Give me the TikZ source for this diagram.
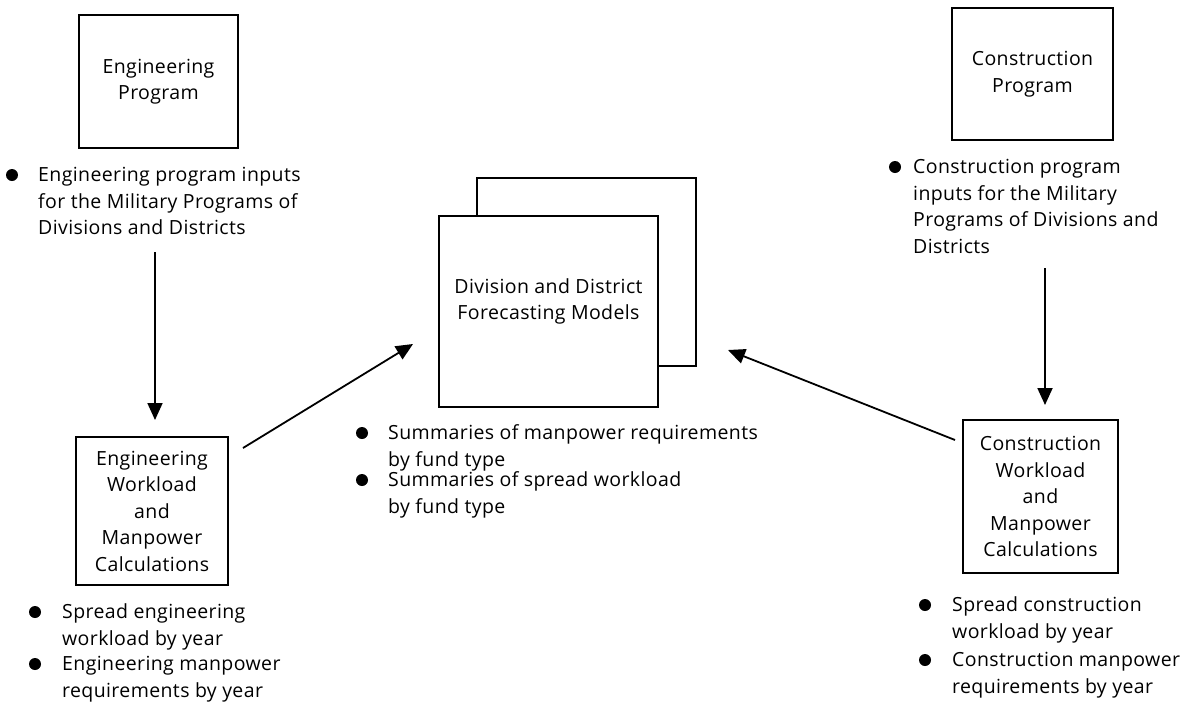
\documentclass[tikz,border=0pt]{standalone}
\usepackage{fontspec}
\setmainfont{Open Sans}[LetterSpace=2]
\usetikzlibrary{arrows.meta}
\newcommand\diagfont{\fontsize{19.5}{26.5}\selectfont}
\begin{document}
\begin{tikzpicture}[x=1pt,y=-1pt,
  box/.style={draw, line width=2pt, fill=white, inner sep=0pt, align=center, font=\diagfont},
  note/.style={anchor=north west, inner sep=0pt, align=left, font=\diagfont},
  dot/.style={circle, fill, inner sep=0pt, minimum size=12pt},
  flow/.style={line width=1.8pt, -{Triangle[width=15pt,length=17pt]}}]

% canvas
\fill[white] (0,0) rectangle (1197,705);
\useasboundingbox (0,0) rectangle (1197,705);

% program boxes
\node[box, minimum width=159pt, minimum height=133pt] (ep) at (158.5,81.5) {Engineering\\Program};
\node[box, minimum width=161pt, minimum height=132pt] (cp) at (1032.5,74) {Construction\\Program};

% calculation boxes
\node[box, minimum width=152pt, minimum height=148pt] (ew) at (152,511)
  {Engineering\\Workload\\and\\Manpower\\Calculations};
\node[box, minimum width=155pt, minimum height=153pt] (cw) at (1040.5,496.5)
  {Construction\\Workload\\and\\Manpower\\Calculations};

% forecasting models (stacked sheets)
\node[box, minimum width=219pt, minimum height=188pt] (mback) at (586.5,272) {};
\node[box, minimum width=219pt, minimum height=191pt] (mfront) at (548.5,311.5) {};
\node[inner sep=0pt, align=center, font=\diagfont] (mtext) at (548.5,301.5)
  {Division and District\\Forecasting Models};

% bullet notes
\node[dot] (d1) at (12,175) {};
\node[note] (n1) at (38,163) {\strut Engineering program inputs\\for the Military Programs of\\Divisions and Districts};

\node[dot] (d4) at (895,167) {};
\node[note] (n4) at (913,155) {\strut Construction program\\inputs for the Military\\Programs of Divisions and\\Districts};

\node[dot] (d2) at (362,433) {};
\node[note] (n2) at (388,421) {\strut Summaries of manpower requirements\\by fund type};
\node[dot] (d3) at (362,480) {};
\node[note] (n3) at (388,468) {\strut Summaries of spread workload\\by fund type};

\node[dot] (d5) at (35,612) {};
\node[note] (n5) at (62,600) {\strut Spread engineering\\workload by year};
\node[dot] (d6) at (35,664) {};
\node[note] (n6) at (62,652) {\strut Engineering manpower\\requirements by year};

\node[dot] (d7) at (925,605) {};
\node[note] (n7) at (952,593) {\strut Spread construction\\workload by year};
\node[dot] (d8) at (925,660) {};
\node[note] (n8) at (952,648) {\strut Construction manpower\\requirements by year};

% connector ends
\coordinate (epout) at (155,252);
\coordinate (ewin) at (155,420);
\coordinate (cpout) at (1045,268);
\coordinate (cwin) at (1045,405);
\coordinate (ewout) at (243,448);
\coordinate (mleft) at (413,344);
\coordinate (cwout) at (955,440);
\coordinate (mright) at (728,350);

\draw[flow] (epout) -- (ewin);
\draw[flow] (cpout) -- (cwin);
\draw[flow] (ewout) -- (mleft);
\draw[flow] (cwout) -- (mright);
\end{tikzpicture}
\end{document}
